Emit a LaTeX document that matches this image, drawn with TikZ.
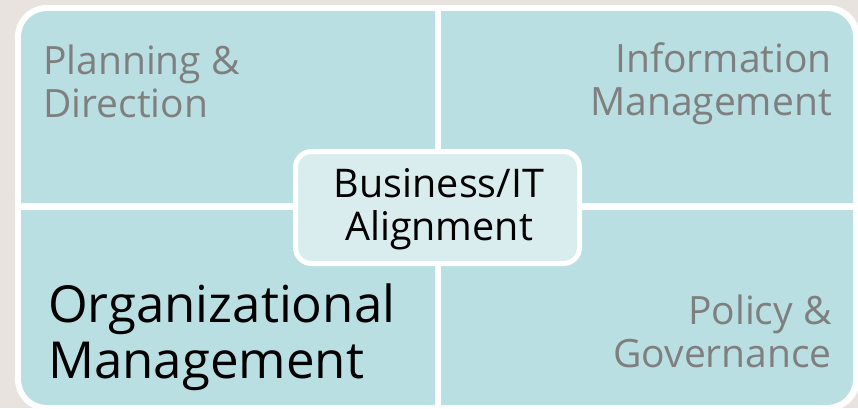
\documentclass[tikz,border=0pt]{standalone}
\usepackage{fontspec}
\setmainfont{Open Sans}
\definecolor{bgc}{HTML}{E8E3DE}
\definecolor{quad}{HTML}{B9DFE3}
\definecolor{ctr}{HTML}{DAEDEE}
\definecolor{gtxt}{HTML}{7F7F7F}
\tikzset{
  quadlbl/.style={inner sep=0pt, text=gtxt, font=\fontsize{39}{43}\selectfont},
  biglbl/.style={inner sep=0pt, text=black, font=\fontsize{51}{56}\selectfont},
  ctrlbl/.style={inner sep=0pt, text=black, font=\fontsize{39.5}{43}\selectfont}
}
\begin{document}
\begin{tikzpicture}[x=1pt,y=-1pt]
\fill[bgc] (0,0) rectangle (858,408);
\useasboundingbox (0,0) rectangle (858,408);
% white frame
\fill[white, rounded corners=32] (15,5) rectangle (860,411);
% quadrants
\fill[quad] (21,203) -- (21,37) arc[start angle=180,end angle=270,radius=26] -- (435,11) -- (435,203) -- cycle;
\fill[quad] (441,11) -- (827,11) arc[start angle=270,end angle=360,radius=26] -- (853,203) -- (441,203) -- cycle;
\fill[quad] (21,210) -- (435,210) -- (435,405) -- (47,405) arc[start angle=90,end angle=180,radius=26] -- cycle;
\fill[quad] (441,210) -- (853,210) -- (853,379) arc[start angle=0,end angle=90,radius=26] -- (441,405) -- cycle;
% centre box
\node[draw=white, line width=5pt, fill=ctr, rounded corners=16, minimum width=284pt, minimum height=112pt] (ctr) at (437.5,207.5) {};
% labels (base anchor = baseline of last line)
\node[quadlbl, anchor=base west, align=left] (pd) at (43,117) {Planning \&\\Direction};
\node[quadlbl, anchor=base east, align=right] (im) at (832,115) {Information\\Management};
\node[biglbl, anchor=base west, align=left] (om) at (48,378) {Organizational\\Management};
\node[quadlbl, anchor=base east, align=right] (pg) at (832,367) {Policy \&\\Governance};
\node[ctrlbl, anchor=base, align=center] (ba) at (439,240) {Business/IT\\Alignment};
\end{tikzpicture}
\end{document}
